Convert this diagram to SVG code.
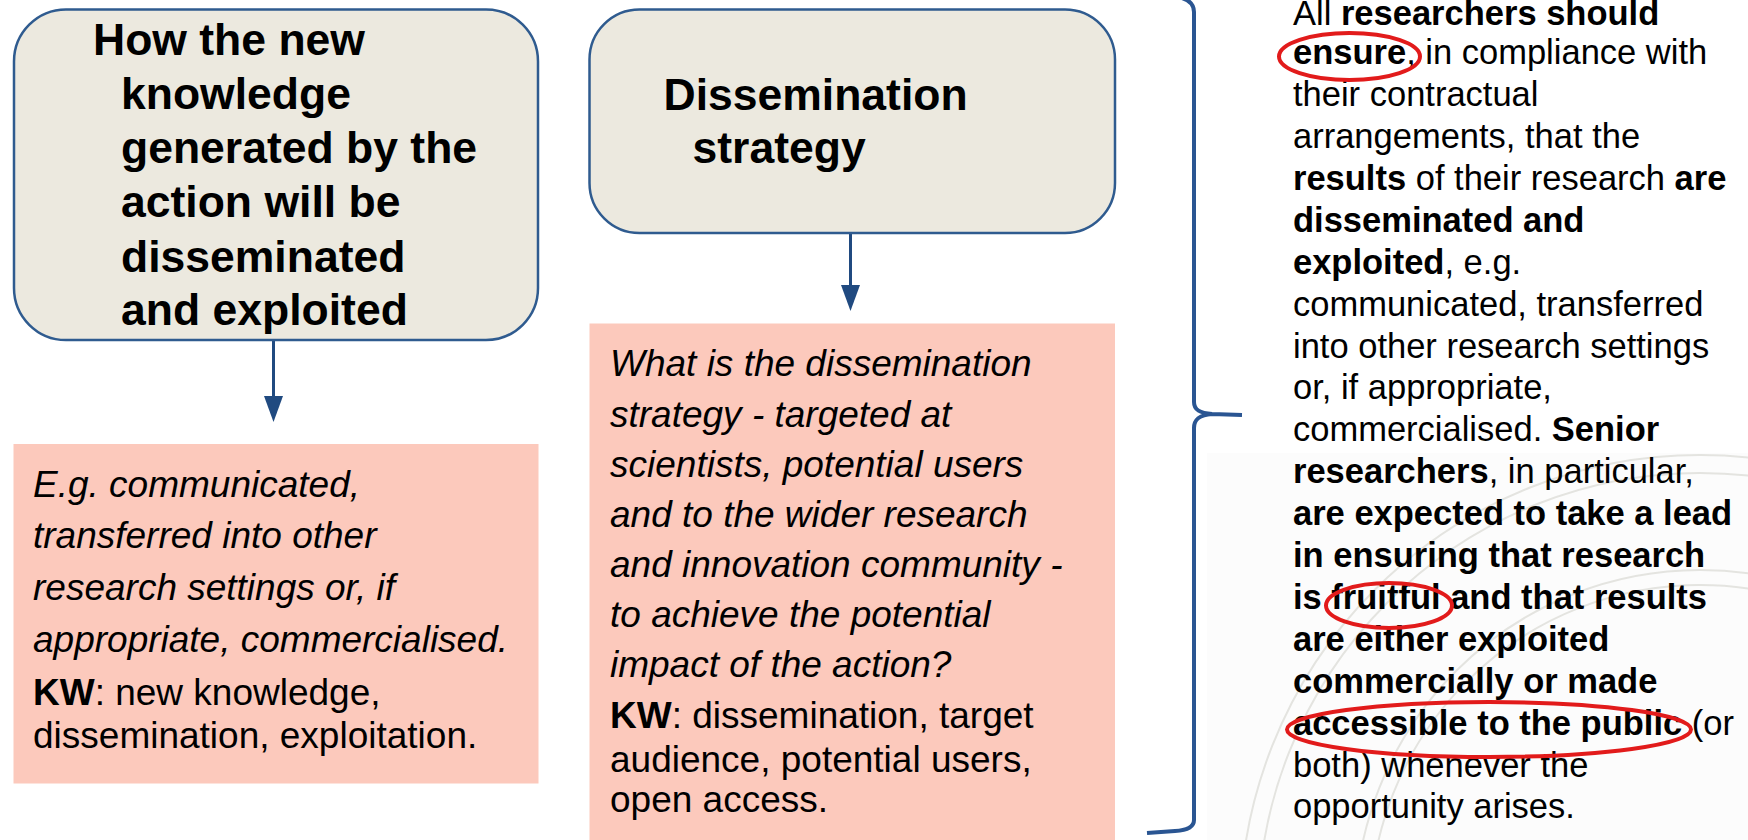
<svg xmlns="http://www.w3.org/2000/svg" width="1748" height="840" viewBox="0 0 1748 840">
<style>
.title{font-family:"Liberation Sans",Arial,sans-serif;font-weight:bold;font-size:44.5px;fill:#000}
.note{font-family:"Liberation Sans",Arial,sans-serif;font-style:italic;font-size:37px;fill:#000}
.kw{font-family:"Liberation Sans",Arial,sans-serif;font-size:37px;fill:#000}
.quote{font-family:"Liberation Sans",Arial,sans-serif;font-size:34.5px;fill:#000}
.b{font-weight:bold}
.tbox{fill:#ece9df;stroke:#2f5b8f;stroke-width:2.5}
.pbox{fill:#fcc9bc;stroke:none}
.conn{stroke:#204a80;stroke-width:3;fill:none}
.ring{fill:none;stroke:#e21b1b;stroke-width:4}
.wm{fill:none;stroke:#e4e4e0;stroke-width:2}
</style>
<defs>
<marker id="ah" markerUnits="userSpaceOnUse" viewBox="0 0 26 19" markerWidth="26" markerHeight="19" refX="0" refY="9.5" orient="auto">
<path d="M0,0 L26,9.5 L0,19 z" fill="#204a80"/>
</marker>
</defs>
<rect x="0" y="0" width="1748" height="840" fill="#ffffff"/>
<g id="watermark">
<rect x="1207" y="453" width="541" height="387" fill="#fcfcfc"/>
<circle class="wm" cx="1700" cy="915" r="460"/>
<circle class="wm" cx="1700" cy="915" r="442"/>
<circle class="wm" cx="1700" cy="915" r="345"/>
<circle class="wm" cx="1700" cy="915" r="330"/>
</g>
<g id="connectors">
<line class="conn" x1="273.5" y1="340" x2="273.5" y2="396" marker-end="url(#ah)"/>
<line class="conn" x1="850.5" y1="233" x2="850.5" y2="285" marker-end="url(#ah)"/>
<path d="M1165,-4 Q1194,-4 1194,12 L1194,402 C1194,410 1200,413 1212,414 L1242,415 M1212,414 C1200,415 1194,419 1194,428 L1194,820 Q1194,830 1175,831 L1147,833" fill="none" stroke="#2a5592" stroke-width="4"/>
</g>
<g id="node-knowledge">
<rect class="tbox" x="14" y="9.5" width="524" height="330.5" rx="52" ry="52"/>
<text class="title" x="93" y="55">How the new</text>
<text class="title" x="121" y="109">knowledge</text>
<text class="title" x="121" y="163">generated by the</text>
<text class="title" x="121" y="217">action will be</text>
<text class="title" x="121" y="272">disseminated</text>
<text class="title" x="121" y="325">and exploited</text>
</g>
<g id="node-knowledge-detail">
<rect class="pbox" x="13.5" y="444" width="525" height="339.5"/>
<text class="note" x="33" y="497">E.g. communicated,</text>
<text class="note" x="33" y="548">transferred into other</text>
<text class="note" x="33" y="600">research settings or, if</text>
<text class="note" x="33" y="652">appropriate, commercialised.</text>
<text class="kw" x="33" y="705"><tspan class="b">KW</tspan>: new knowledge,</text>
<text class="kw" x="33" y="748">dissemination, exploitation.</text>
</g>
<g id="node-strategy">
<rect class="tbox" x="589.5" y="9.5" width="525.5" height="223.5" rx="50" ry="50"/>
<text class="title" x="663.5" y="110">Dissemination</text>
<text class="title" x="692.5" y="163">strategy</text>
</g>
<g id="node-strategy-detail">
<rect class="pbox" x="589.5" y="323.5" width="525.5" height="520"/>
<text class="note" x="610" y="376">What is the dissemination</text>
<text class="note" x="610" y="427">strategy - targeted at</text>
<text class="note" x="610" y="477">scientists, potential users</text>
<text class="note" x="610" y="527">and to the wider research</text>
<text class="note" x="610" y="577">and innovation community -</text>
<text class="note" x="610" y="627">to achieve the potential</text>
<text class="note" x="610" y="677">impact of the action?</text>
<text class="kw" x="610" y="728"><tspan class="b">KW</tspan>: dissemination, target</text>
<text class="kw" x="610" y="772">audience, potential users,</text>
<text class="kw" x="610" y="812">open access.</text>
</g>
<g id="node-quote">
<text class="quote" x="1293" y="25">All <tspan class="b">researchers should</tspan></text>
<text class="quote" x="1293" y="64"><tspan class="b">ensure</tspan>, in compliance with</text>
<text class="quote" x="1293" y="106">their contractual</text>
<text class="quote" x="1293" y="148">arrangements, that the</text>
<text class="quote" x="1293" y="190"><tspan class="b">results</tspan> of their research <tspan class="b">are</tspan></text>
<text class="quote" x="1293" y="231.5"><tspan class="b">disseminated and</tspan></text>
<text class="quote" x="1293" y="273.5"><tspan class="b">exploited</tspan>, e.g.</text>
<text class="quote" x="1293" y="315.5">communicated, transferred</text>
<text class="quote" x="1293" y="357.5">into other research settings</text>
<text class="quote" x="1293" y="399">or, if appropriate,</text>
<text class="quote" x="1293" y="441">commercialised. <tspan class="b">Senior</tspan></text>
<text class="quote" x="1293" y="483"><tspan class="b">researchers</tspan>, in particular,</text>
<text class="quote" x="1293" y="525"><tspan class="b">are expected to take a lead</tspan></text>
<text class="quote" x="1293" y="567"><tspan class="b">in ensuring that research</tspan></text>
<text class="quote" x="1293" y="609"><tspan class="b">is fruitful and that results</tspan></text>
<text class="quote" x="1293" y="650.5"><tspan class="b">are either exploited</tspan></text>
<text class="quote" x="1293" y="692.5"><tspan class="b">commercially or made</tspan></text>
<text class="quote" x="1293" y="734.5"><tspan class="b">accessible to the public</tspan> (or</text>
<text class="quote" x="1293" y="776.5">both) whenever the</text>
<text class="quote" x="1293" y="818">opportunity arises.</text>
<ellipse class="ring" cx="1349.5" cy="56.5" rx="70.5" ry="23.5"/>
<ellipse class="ring" cx="1389" cy="605.5" rx="63" ry="22.5"/>
<ellipse class="ring" cx="1489" cy="729.5" rx="202" ry="27.5"/>
</g>
</svg>
